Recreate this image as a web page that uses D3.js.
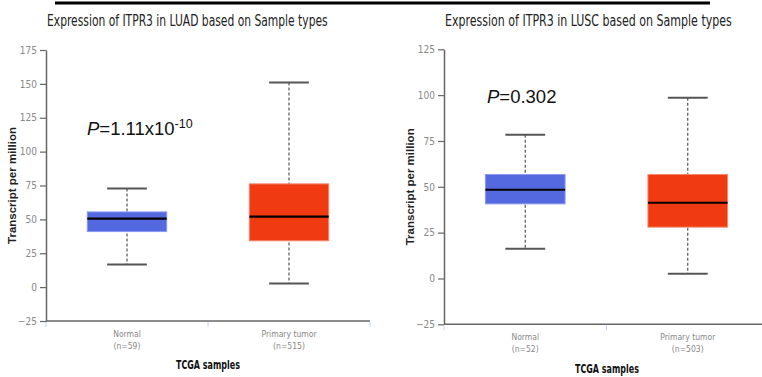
<!DOCTYPE html>
<html>
<head>
<meta charset="utf-8">
<script src="https://cdn.jsdelivr.net/npm/d3@7"></script>
<style>
  body { margin: 0; background: #fff; }
  svg { display: block; }
  .narrow { font-family: "DejaVu Sans", sans-serif; font-stretch: condensed; }
</style>
</head>
<body>
<svg id="chart" width="762" height="377"></svg>
<script>
// categories and counts
var categories = ["Normal", "Primary tumor"];
var luadCounts = [59, 515];
var luscCounts = [52, 503];

// box stats (TPM)
var luadMin    = [16.7, 2.7];
var luadQ1     = [41.0, 34.2];
var luadMedian = [50.5, 52.0];
var luadQ3     = [55.5, 76.2];
var luadMax    = [72.7, 151.0];

var luscMin    = [16.2, 2.6];
var luscQ1     = [40.7, 28.0];
var luscMedian = [48.4, 41.3];
var luscQ3     = [56.7, 56.7];
var luscMax    = [78.4, 98.6];

var luadTicks = [-25, 0, 25, 50, 75, 100, 125, 150, 175];
var luscTicks = [-25, 0, 25, 50, 75, 100, 125];

var boxColors = ["#5468e0", "#f03a12"];

var svg = d3.select("#chart");

// black rule across the top
svg.append("line")
  .attr("x1", 55).attr("x2", 710)
  .attr("y1", 3).attr("y2", 3)
  .attr("stroke", "#000").attr("stroke-width", 3);

// squeeze a text horizontally to a given width
function fitWidth(sel, x0, w) {
  var n = sel.node().getComputedTextLength();
  var s = Math.min(1, w / n);
  sel.attr("x", 0).attr("transform", "translate(" + x0 + ",0) scale(" + s + ",1)");
}

function drawPanel(opt) {
  var g = svg.append("g");

  var y = d3.scaleLinear()
    .domain([opt.ticks[0], opt.ticks[opt.ticks.length - 1]])
    .range([opt.bottom, opt.top]);

  var x = d3.scaleBand()
    .domain(categories)
    .range([opt.left, opt.right])
    .padding(0);

  // title
  var title = g.append("text")
    .attr("y", 26)
    .attr("class", "narrow")
    .attr("font-size", 15)
    .attr("fill", "#222")
    .text(opt.title);
  fitWidth(title, opt.titleX, opt.titleW);

  // y axis
  var yAxis = g.append("g")
    .attr("transform", "translate(" + opt.left + ",0)")
    .call(d3.axisLeft(y).tickValues(opt.ticks).tickSize(6).tickSizeOuter(0).tickPadding(3));
  yAxis.select(".domain").attr("stroke", "#666").attr("stroke-width", 1.5);
  yAxis.selectAll(".tick line").attr("stroke", "#666").attr("stroke-width", 1.2);
  yAxis.selectAll(".tick text")
    .attr("class", "narrow")
    .attr("font-size", 10)
    .attr("fill", "#888");

  // y label
  g.append("text")
    .attr("transform", "translate(" + opt.yLabelX + "," + ((opt.top + opt.bottom) / 2) + ") rotate(-90)")
    .attr("text-anchor", "middle")
    .attr("font-family", "Liberation Sans, Arial, sans-serif")
    .attr("font-weight", "bold")
    .attr("font-size", 11.5)
    .attr("fill", "#222")
    .text("Transcript per million");

  // x axis line
  g.append("line")
    .attr("x1", opt.left).attr("x2", opt.right)
    .attr("y1", opt.bottom).attr("y2", opt.bottom)
    .attr("stroke", "#666").attr("stroke-width", 1.5);

  var edges = categories.map(function (c) { return x(c); }).concat([opt.right]);
  g.selectAll(".xtick").data(edges).join("line")
    .attr("x1", function (d) { return d; }).attr("x2", function (d) { return d; })
    .attr("y1", opt.bottom + 1).attr("y2", opt.bottom + 6)
    .attr("stroke", "#c5d4ee").attr("stroke-width", 1);

  // category labels
  var lab = g.selectAll(".cat").data(categories).join("text")
    .attr("class", "narrow")
    .attr("text-anchor", "middle")
    .attr("font-size", 8.5)
    .attr("fill", "#888");
  lab.append("tspan")
    .attr("x", function (d) { return x(d) + x.bandwidth() / 2; })
    .attr("y", opt.bottom + 16)
    .text(function (d) { return d; });
  lab.append("tspan")
    .attr("x", function (d) { return x(d) + x.bandwidth() / 2; })
    .attr("y", opt.bottom + 28)
    .text(function (d, i) { return "(n=" + opt.counts[i] + ")"; });

  var xl = g.append("text")
    .attr("y", opt.xLabelY)
    .attr("class", "narrow")
    .attr("font-weight", "bold")
    .attr("font-size", 12)
    .attr("fill", "#111")
    .text("TCGA samples");
  fitWidth(xl, opt.xLabelX - 32, 64);

  // boxes
  var bw = x.bandwidth() * 0.49;
  var cw = bw * 0.5;
  var boxes = g.selectAll(".box").data(categories).join("g")
    .attr("transform", function (d) { return "translate(" + (x(d) + x.bandwidth() / 2) + ",0)"; });

  boxes.append("line")
    .attr("y1", function (d, i) { return y(opt.max[i]); })
    .attr("y2", function (d, i) { return y(opt.min[i]); })
    .attr("stroke", "#555").attr("stroke-width", 1.2)
    .attr("stroke-dasharray", "3,2");

  boxes.append("rect")
    .attr("x", -bw / 2).attr("width", bw)
    .attr("y", function (d, i) { return y(opt.q3[i]); })
    .attr("height", function (d, i) { return y(opt.q1[i]) - y(opt.q3[i]); })
    .attr("fill", function (d, i) { return boxColors[i]; })
    .attr("stroke", function (d, i) { return i === 0 ? "#8a98ef" : "#f7876b"; })
    .attr("stroke-width", 1);

  boxes.append("line")
    .attr("x1", -bw / 2).attr("x2", bw / 2)
    .attr("y1", function (d, i) { return y(opt.median[i]); })
    .attr("y2", function (d, i) { return y(opt.median[i]); })
    .attr("stroke", "#000").attr("stroke-width", 2.2);

  ["max", "min"].forEach(function (k) {
    boxes.append("line")
      .attr("x1", -cw / 2).attr("x2", cw / 2)
      .attr("y1", function (d, i) { return y(opt[k][i]); })
      .attr("y2", function (d, i) { return y(opt[k][i]); })
      .attr("stroke", "#555").attr("stroke-width", 2);
  });

  // p value
  var p = g.append("text")
    .attr("x", opt.pX).attr("y", opt.pY)
    .attr("font-family", "Liberation Sans, Arial, sans-serif")
    .attr("font-size", 18.5)
    .attr("fill", "#111");
  p.append("tspan").attr("font-style", "italic").text("P");
  p.append("tspan").text(opt.pText);
  if (opt.pExp) {
    p.append("tspan").attr("font-size", 12.5).attr("dy", -7).text(opt.pExp);
  }
}

drawPanel({
  title: "Expression of ITPR3 in LUAD based on Sample types",
  titleX: 47, titleW: 281,
  ticks: luadTicks,
  left: 46, right: 370, top: 50, bottom: 321,
  counts: luadCounts,
  min: luadMin, q1: luadQ1, median: luadMedian, q3: luadQ3, max: luadMax,
  yLabelX: 16, xLabelX: 208, xLabelY: 369,
  pX: 87, pY: 135, pText: "=1.11x10", pExp: "-10"
});

drawPanel({
  title: "Expression of ITPR3 in LUSC based on Sample types",
  titleX: 445, titleW: 287,
  ticks: luscTicks,
  left: 444, right: 769, top: 49.3, bottom: 324.3,
  counts: luscCounts,
  min: luscMin, q1: luscQ1, median: luscMedian, q3: luscQ3, max: luscMax,
  yLabelX: 414, xLabelX: 607, xLabelY: 373,
  pX: 487, pY: 103, pText: "=0.302", pExp: null
});
</script>
</body>
</html>
